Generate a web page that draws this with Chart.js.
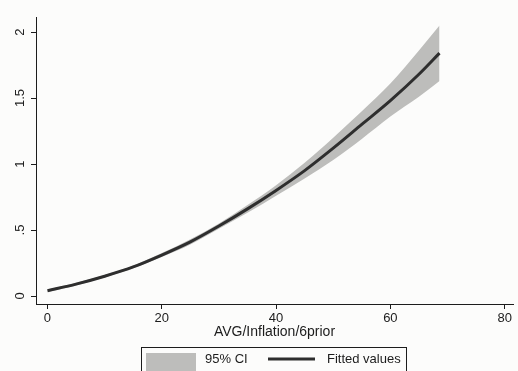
<!DOCTYPE html>
<html>
<head>
<meta charset="utf-8">
<script src="https://cdn.jsdelivr.net/npm/chart.js@4"></script>
<style>
  html, body { margin: 0; padding: 0; background: #fcfcfb; }
  #wrap { width: 518px; height: 371px; position: relative; }
</style>
</head>
<body>
<div id="wrap"><canvas id="c" width="518" height="371"></canvas></div>
<script>
// Predicted values with 95% confidence interval against AVG/Inflation/6prior
const xValues   = [0, 5, 10, 15, 20, 25, 30, 35, 40, 45, 50, 55, 60, 65, 68.6];
const fitted    = [0.04, 0.09, 0.15, 0.22, 0.31, 0.41, 0.53, 0.66, 0.80, 0.95, 1.12, 1.30, 1.48, 1.68, 1.84];
const ciLower   = [0.03, 0.08, 0.14, 0.21, 0.295, 0.39, 0.51, 0.63, 0.76, 0.89, 1.03, 1.19, 1.36, 1.51, 1.63];
const ciUpper   = [0.05, 0.10, 0.16, 0.23, 0.325, 0.43, 0.55, 0.69, 0.84, 1.01, 1.20, 1.40, 1.61, 1.86, 2.05];
const xTicks    = [0, 20, 40, 60, 80];
const yTicks    = [0, 0.5, 1, 1.5, 2];
const yTickText = ['0', '.5', '1', '1.5', '2'];
const xTitle    = 'AVG/Inflation/6prior';
const ciLabel   = '95% CI';
const fitLabel  = 'Fitted values';

const pts = ys => xValues.map((x, i) => ({ x: x, y: ys[i] }));

const FONT = 'Liberation Sans, Arial, sans-serif';
const INK = '#1c1c1c';
const BAND = '#bdbdbb';
const LINE = '#2e2e2e';

// Boxed legend under the plot
const boxLegend = {
  id: 'boxLegend',
  afterDraw(chart) {
    const ctx = chart.ctx;
    ctx.save();
    ctx.strokeStyle = INK;
    ctx.lineWidth = 1;
    ctx.strokeRect(141.5, 347.5, 265, 40);
    ctx.fillStyle = BAND;
    ctx.fillRect(146, 353, 50, 20);
    ctx.strokeStyle = LINE;
    ctx.lineWidth = 3;
    ctx.beginPath();
    ctx.moveTo(268, 359);
    ctx.lineTo(315, 359);
    ctx.stroke();
    ctx.fillStyle = INK;
    ctx.font = '13px ' + FONT;
    ctx.textBaseline = 'middle';
    ctx.textAlign = 'left';
    ctx.fillText(chart.data.datasets[1].label, 205, 359);
    ctx.fillText(chart.data.datasets[2].label, 327, 359);
    ctx.restore();
  }
};

new Chart(document.getElementById('c'), {
  type: 'line',
  data: {
    datasets: [
      { label: 'upper', data: pts(ciUpper), borderWidth: 0, pointRadius: 0, fill: false, order: 2,
        borderColor: 'rgba(0,0,0,0)', cubicInterpolationMode: 'monotone' },
      { label: ciLabel, data: pts(ciLower), borderWidth: 0, pointRadius: 0, fill: '-1', order: 1,
        backgroundColor: BAND, borderColor: 'rgba(0,0,0,0)', cubicInterpolationMode: 'monotone' },
      { label: fitLabel, data: pts(fitted), borderWidth: 3, pointRadius: 0, fill: false, order: 0,
        borderColor: LINE, cubicInterpolationMode: 'monotone' }
    ]
  },
  options: {
    responsive: false,
    animation: false,
    layout: { padding: { top: 17, right: 5, left: 0, bottom: 0 } },
    plugins: { legend: { display: false }, tooltip: { enabled: false } },
    scales: {
      x: {
        type: 'linear',
        min: -2.01, max: 81.46,
        afterBuildTicks: s => { s.ticks = xTicks.map(v => ({ value: v })); },
        afterFit: s => { s.height = 67; },
        grid: { display: true, drawOnChartArea: false, drawTicks: true, tickLength: 5, color: INK, tickWidth: 1 },
        border: { display: true, color: INK, width: 1 },
        ticks: { color: INK, font: { family: FONT, size: 13 }, padding: 2, autoSkip: false, maxRotation: 0 },
        title: { display: true, text: xTitle, color: INK, font: { family: FONT, size: 14 }, padding: { top: 0, bottom: 30 } }
      },
      y: {
        type: 'linear',
        min: -0.0606, max: 2.114,
        afterBuildTicks: s => { s.ticks = yTicks.map(v => ({ value: v })); },
        afterFit: s => { s.width = 36; },
        grid: { display: true, drawOnChartArea: false, drawTicks: true, tickLength: 5, color: INK, tickWidth: 1 },
        border: { display: true, color: INK, width: 1 },
        ticks: {
          color: INK, font: { family: FONT, size: 13 }, padding: 2, autoSkip: false,
          minRotation: 90, maxRotation: 90, crossAlign: 'center',
          callback: (v) => { const i = yTicks.indexOf(v); return i >= 0 ? yTickText[i] : ''; }
        }
      }
    }
  },
  plugins: [boxLegend]
});
</script>
</body>
</html>
